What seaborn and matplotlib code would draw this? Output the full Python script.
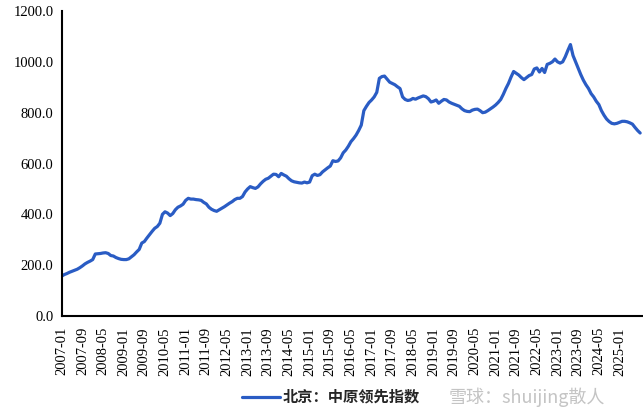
import matplotlib
matplotlib.use("Agg")
import matplotlib.pyplot as plt
import pandas as pd
import numpy as np
import seaborn as sns

sns.set_theme(style="white")
plt.rcParams['font.family'] = ['Liberation Serif', 'Noto Sans CJK SC', 'DejaVu Sans']

# monthly index values, 2007-01 .. 2025-09
v2007 = [157, 163, 167, 172, 176, 180, 184, 190, 197, 205, 211, 216]
v2008 = [222, 244, 245, 246, 248, 249, 246, 238, 236, 230, 226, 223]
v2009 = [222, 222, 225, 233, 241, 252, 262, 287, 293, 307, 320, 333]
v2010 = [345, 352, 365, 400, 410, 405, 395, 403, 418, 428, 433, 440]
v2011 = [455, 463, 460, 460, 458, 457, 455, 447, 441, 428, 420, 415]
v2012 = [412, 418, 424, 430, 437, 444, 450, 458, 463, 463, 470, 488]
v2013 = [500, 509, 505, 502, 508, 520, 530, 538, 542, 550, 558, 557]
v2014 = [548, 561, 555, 550, 540, 532, 528, 526, 524, 523, 527, 524]
v2015 = [527, 552, 558, 553, 556, 567, 575, 583, 590, 611, 608, 610]
v2016 = [622, 642, 653, 668, 686, 698, 712, 730, 751, 808, 825, 840]
v2017 = [850, 862, 880, 935, 942, 944, 932, 920, 915, 910, 902, 895]
v2018 = [862, 852, 848, 850, 856, 853, 858, 862, 866, 863, 855, 842]
v2019 = [845, 850, 837, 845, 852, 850, 842, 837, 833, 829, 825, 815]
v2020 = [808, 805, 804, 810, 813, 814, 808, 800, 802, 808, 815, 822]
v2021 = [830, 840, 852, 872, 895, 915, 940, 962, 955, 948, 938, 930]
v2022 = [938, 946, 950, 972, 976, 960, 974, 958, 990, 994, 1000, 1011]
v2023 = [1000, 995, 1000, 1020, 1045, 1068, 1025, 1000, 975, 950, 928, 910]
v2024 = [895, 875, 862, 845, 832, 808, 790, 775, 765, 758, 756, 758]
v2025 = [762, 766, 766, 764, 760, 755, 742, 730, 720]

values = (v2007 + v2008 + v2009 + v2010 + v2011 + v2012 + v2013 + v2014 + v2015
          + v2016 + v2017 + v2018 + v2019 + v2020 + v2021 + v2022 + v2023 + v2024 + v2025)
months = pd.date_range("2007-01", periods=len(values), freq="MS").strftime("%Y-%m").tolist()
series_name = "北京：中原领先指数"

df = pd.DataFrame({"pos": np.arange(len(values)), "month": months, "value": values})

fig = plt.figure(figsize=(6.43, 4.17), dpi=100)
ax = fig.add_axes([0.096, 0.2422, 0.904, 0.7314])

sns.lineplot(data=df, x="pos", y="value", color="#2A5CC4", linewidth=2.3, ax=ax, label=series_name)

ax.set_xlim(0, 225.1)
ax.set_ylim(0, 1200)
ax.set_yticks(np.arange(0, 1201, 200))
ax.set_yticklabels(['{:.1f}'.format(t) for t in np.arange(0, 1201, 200)], fontsize=10.5)
# category labels every 8 months, last one 2025-01
ticks = df.iloc[:217:8]
ax.set_xticks(ticks["pos"])
ax.set_xticklabels(ticks["month"], rotation=90, fontsize=10.5)
ax.tick_params(length=0, pad=8, colors="black")
ax.tick_params(axis="y", pad=6)
ax.set_xlabel("")
ax.set_ylabel("")
ax.grid(False)
for s in ["top", "right"]:
    ax.spines[s].set_visible(False)
for s in ["left", "bottom"]:
    ax.spines[s].set_color("black")
    ax.spines[s].set_linewidth(1.5)

ax.get_legend().remove()
leg = fig.legend(*ax.get_legend_handles_labels(), loc="center", bbox_to_anchor=(0.515, 0.048),
                 frameon=False, handlelength=2.5, handletextpad=0.2,
                 prop={"family": ["Noto Sans CJK SC"], "size": 11, "weight": "bold"})

# watermark
fig.text(0.698, 0.048, "雪球：shuijing散人", ha="left", va="center", color="#c4c4c4",
         fontsize=13, family=["Noto Sans CJK SC", "DejaVu Sans"])

fig.savefig("out.png", dpi=100)
